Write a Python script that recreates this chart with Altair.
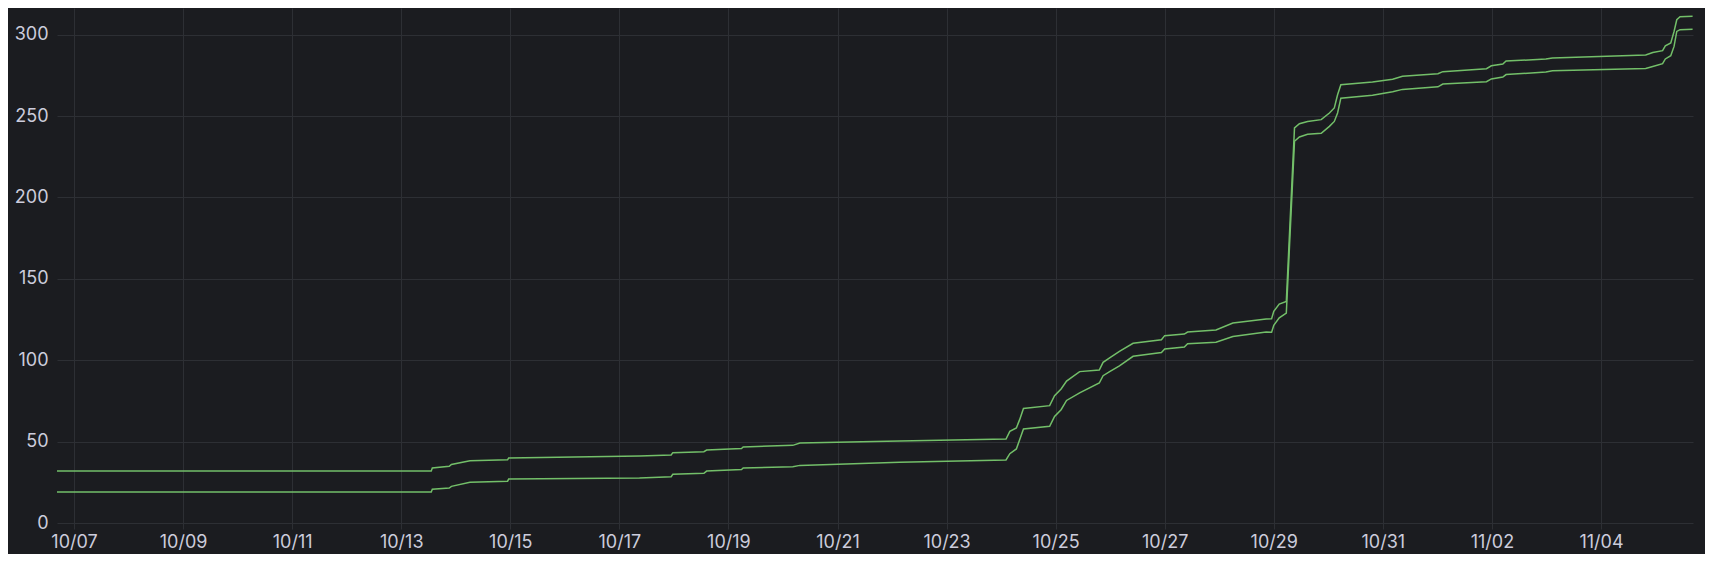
import altair as alt
import pandas as pd

# days since 2024-10-07 00:00 UTC
day_offsets = [-0.3125, 6.55, 6.57, 6.88, 6.92, 7.26, 7.95, 7.97, 10.37, 10.95, 10.98,
               11.55, 11.60, 12.24, 12.27, 13.18, 13.31, 15.14, 17.09, 17.16, 17.28,
               17.34, 17.41, 17.89, 17.98, 18.10, 18.20, 18.44, 18.80, 18.87, 18.99,
               19.17, 19.42, 19.94, 20.00, 20.36, 20.42, 20.94, 21.25, 21.86, 21.96,
               22.00, 22.10, 22.23, 22.38, 22.47, 22.62, 22.87, 23.02, 23.11, 23.17,
               23.23, 23.81, 24.18, 24.36, 25.01, 25.10, 25.90, 25.99, 26.20, 26.26,
               26.99, 27.11, 28.82, 28.95, 29.13, 29.18, 29.28, 29.34, 29.39, 29.45,
               29.68]

series_upper = [32.0, 32.0, 33.8, 34.8, 36.0, 38.3, 38.8, 40.0, 41.2, 41.8, 43.2,
                43.8, 44.8, 45.8, 46.7, 47.7, 49.1, 50.4, 51.6, 56.3, 58.4,
                63.5, 70.4, 72.1, 78.2, 82.3, 87.2, 93.0, 94.0, 98.7, 101.4,
                105.4, 110.4, 112.6, 115.1, 116.1, 117.3, 118.6, 122.9, 125.3, 125.5,
                130.0, 134.5, 136.1, 242.7, 245.3, 246.7, 247.8, 251.9, 255.0, 263.1,
                269.3, 271.0, 272.6, 274.4, 276.0, 277.3, 279.1, 280.9, 282.0, 283.8,
                285.0, 285.7, 287.5, 289.1, 290.2, 293.2, 294.9, 302.0, 309.2, 311.0,
                311.4]

series_lower = [19.0, 19.0, 20.8, 21.5, 22.5, 25.0, 25.7, 27.0, 27.6, 28.4, 29.9,
                30.5, 31.9, 32.9, 33.8, 34.6, 35.4, 37.3, 38.7, 42.6, 45.5,
                51.2, 57.8, 59.4, 65.5, 69.6, 75.3, 79.9, 86.0, 90.5, 93.0,
                96.5, 102.4, 104.8, 106.9, 108.1, 110.2, 111.0, 114.6, 117.3, 117.2,
                121.5, 126.0, 129.0, 234.5, 237.2, 238.8, 239.4, 243.7, 246.7, 251.9,
                261.0, 262.8, 264.9, 266.4, 268.0, 269.7, 271.1, 272.8, 274.0, 275.5,
                277.1, 277.9, 279.2, 280.5, 282.2, 285.1, 287.1, 292.8, 302.0, 303.1,
                303.3]

tick_days = [0, 2, 4, 6, 8, 10, 12, 14, 16, 18, 20, 22, 24, 26, 28]
y_ticks = [0, 50, 100, 150, 200, 250, 300]

base = pd.Timestamp("2024-10-07T00:00:00")


def iso(d):
    return (base + pd.to_timedelta(d, unit="D")).strftime("%Y-%m-%dT%H:%M:%SZ")


def dt(d):
    t = base + pd.to_timedelta(d, unit="D")
    return alt.DateTime(year=t.year, month=t.month, date=t.day,
                        hours=t.hour, minutes=t.minute, utc=True)


rows = []
for name, vals in (("upper", series_upper), ("lower", series_lower)):
    for d, v in zip(day_offsets, vals):
        rows.append({"t": iso(d), "v": v, "s": name})
df = pd.DataFrame(rows)

FONT = "Inter"
LABEL = "#ccccdc"
GRID = "#2d2f34"

chart = alt.Chart(df).mark_line(color="#73bf69", strokeWidth=1.5).encode(
    x=alt.X("t:T",
            scale=alt.Scale(type="utc", domain=[dt(-0.3125), dt(29.6875)], nice=False),
            axis=alt.Axis(values=[dt(d) for d in tick_days], format="%m/%d", title=None,
                          grid=True, gridColor=GRID, gridWidth=1, domain=False,
                          ticks=True, tickColor=GRID, tickSize=6, tickWidth=1,
                          labelFont=FONT, labelFontSize=18, labelColor=LABEL,
                          labelPadding=4, labelFlush=False, labelOverlap=False)),
    y=alt.Y("v:Q",
            scale=alt.Scale(domain=[0, 316.4], nice=False, zero=True),
            axis=alt.Axis(values=y_ticks, title=None, grid=True, gridColor=GRID,
                          gridWidth=1, domain=False, ticks=False, tickSize=0,
                          labelFont=FONT, labelFontSize=18, labelColor=LABEL,
                          labelPadding=9, labelFlush=False)),
    detail="s:N",
).properties(
    width=1636,
    height=515,
    padding={"left": 49, "top": 0, "right": 12, "bottom": 31},
    autosize=alt.AutoSizeParams(type="none"),
    background="#1b1c20",
).configure_view(stroke=None)

chart.save("out.html", embed_options={"renderer": "svg", "actions": False})
